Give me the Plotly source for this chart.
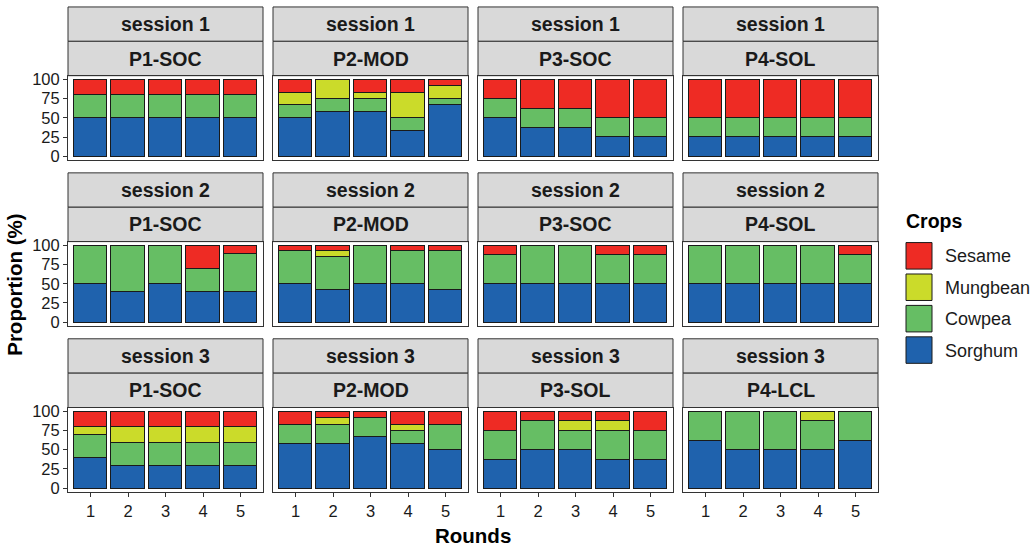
import plotly.graph_objects as go

# ---- data: crop shares (%) per round, four plots per session ----
rounds = [1, 2, 3, 4, 5]
sessions = ["session 1", "session 2", "session 3"]
plots_s1 = ["P1-SOC", "P2-MOD", "P3-SOC", "P4-SOL"]
plots_s2 = ["P1-SOC", "P2-MOD", "P3-SOC", "P4-SOL"]
plots_s3 = ["P1-SOC", "P2-MOD", "P3-SOL", "P4-LCL"]

# stacking order bottom -> top
crops = ["Sorghum", "Cowpea", "Mungbean", "Sesame"]
crop_colors = ["#1F62AD", "#66BE64", "#CBDB2A", "#EE2B24"]

sorghum_s1 = [[50, 50, 50, 50, 50], [50, 58.3, 58.3, 33.3, 66.7],
              [50, 37.5, 37.5, 25, 25], [25, 25, 25, 25, 25]]
cowpea_s1 = [[30, 30, 30, 30, 30], [16.7, 16.7, 16.7, 16.7, 8.3],
             [25, 25, 25, 25, 25], [25, 25, 25, 25, 25]]
mungbean_s1 = [[0, 0, 0, 0, 0], [16.6, 25, 8.3, 33.4, 16.7],
               [0, 0, 0, 0, 0], [0, 0, 0, 0, 0]]
sesame_s1 = [[20, 20, 20, 20, 20], [16.7, 0, 16.7, 16.6, 8.3],
             [25, 37.5, 37.5, 50, 50], [50, 50, 50, 50, 50]]

sorghum_s2 = [[50, 40, 50, 40, 40], [50, 42.9, 50, 50, 42.9],
              [50, 50, 50, 50, 50], [50, 50, 50, 50, 50]]
cowpea_s2 = [[50, 60, 50, 30, 50], [42.9, 42.8, 50, 42.9, 50],
             [37.5, 50, 50, 37.5, 37.5], [50, 50, 50, 50, 37.5]]
mungbean_s2 = [[0, 0, 0, 0, 0], [0, 7.2, 0, 0, 0],
               [0, 0, 0, 0, 0], [0, 0, 0, 0, 0]]
sesame_s2 = [[0, 0, 0, 30, 10], [7.1, 7.1, 0, 7.1, 7.1],
             [12.5, 0, 0, 12.5, 12.5], [0, 0, 0, 0, 12.5]]

sorghum_s3 = [[40, 30, 30, 30, 30], [58.3, 58.3, 66.7, 58.3, 50],
              [37.5, 50, 50, 37.5, 37.5], [62.5, 50, 50, 50, 62.5]]
cowpea_s3 = [[30, 30, 30, 30, 30], [25, 25, 25, 16.7, 33.3],
             [37.5, 37.5, 25, 37.5, 37.5], [37.5, 50, 50, 37.5, 37.5]]
mungbean_s3 = [[10, 20, 20, 20, 20], [0, 8.4, 0, 8.3, 0],
               [0, 0, 12.5, 12.5, 0], [0, 0, 0, 12.5, 0]]
sesame_s3 = [[20, 20, 20, 20, 20], [16.7, 8.3, 8.3, 16.7, 16.7],
             [25, 12.5, 12.5, 12.5, 25], [0, 0, 0, 0, 0]]

y_ticks = [0, 25, 50, 75, 100]

session_data = [
    [sorghum_s1, cowpea_s1, mungbean_s1, sesame_s1],
    [sorghum_s2, cowpea_s2, mungbean_s2, sesame_s2],
    [sorghum_s3, cowpea_s3, mungbean_s3, sesame_s3],
]
plot_labels = [plots_s1, plots_s2, plots_s3]

# ---- layout geometry (pixels) ----
W, H = 1033, 547
col_left = [68, 273, 478, 683]
col_w = 195
row_top = [72, 241, 410]
row_h = 86
strip_h = 35

FONT = "Liberation Sans, Arial, sans-serif"
TXT = "#1a1a1a"
BORDER = "#333333"


def px_x(x):
    return x / W


def px_y(y):
    return 1 - y / H


fig = go.Figure()
layout_axes = {}
shapes = []
annotations = []

for r in range(3):
    for c in range(4):
        k = r * 4 + c + 1
        xa = "x" if k == 1 else f"x{k}"
        ya = "y" if k == 1 else f"y{k}"
        for ci, crop in enumerate(crops):
            vals = session_data[r][ci][c]
            fig.add_trace(go.Bar(
                x=rounds,
                y=[v if v else None for v in vals],
                name=crop,
                marker=dict(color=crop_colors[ci],
                            line=dict(color="#1a1a1a", width=1)),
                width=0.9,
                xaxis=xa, yaxis=ya,
                showlegend=False,
            ))
        x0, x1 = col_left[c], col_left[c] + col_w
        y0, y1 = row_top[r], row_top[r] + row_h
        layout_axes["xaxis" if k == 1 else f"xaxis{k}"] = dict(
            domain=[px_x(x0), px_x(x1)],
            anchor=ya,
            range=[0.4, 5.6],
            tickvals=rounds if r == 2 else [],
            ticktext=[str(v) for v in rounds] if r == 2 else [],
            showticklabels=(r == 2),
            ticks="outside" if r == 2 else "",
            ticklen=4, tickcolor=BORDER, tickwidth=1,
            tickfont=dict(size=16.5, color=TXT, family=FONT),
            showline=True, linecolor=BORDER, linewidth=1, mirror=True,
            showgrid=False, zeroline=False, fixedrange=True,
        )
        layout_axes["yaxis" if k == 1 else f"yaxis{k}"] = dict(
            domain=[px_y(y1), px_y(y0)],
            anchor=xa,
            range=[-5, 105],
            tickvals=y_ticks if c == 0 else [],
            showticklabels=(c == 0),
            ticks="outside" if c == 0 else "",
            ticklen=4, tickcolor=BORDER, tickwidth=1,
            tickfont=dict(size=16.5, color=TXT, family=FONT),
            showline=True, linecolor=BORDER, linewidth=1, mirror=True,
            showgrid=False, zeroline=False, fixedrange=True,
        )
        # two facet strips above the panel: session, then plot
        for si, label in enumerate([sessions[r], plot_labels[r][c]]):
            sy1 = y0 - strip_h * (1 - si)
            sy0 = sy1 - strip_h
            shapes.append(dict(
                type="rect", xref="paper", yref="paper",
                x0=px_x(x0), x1=px_x(x1), y0=px_y(sy1), y1=px_y(sy0),
                fillcolor="#D9D9D9", line=dict(color=BORDER, width=1),
                layer="below",
            ))
            annotations.append(dict(
                x=px_x((x0 + x1) / 2), y=px_y((sy0 + sy1) / 2),
                xref="paper", yref="paper", text=f"<b>{label}</b>",
                showarrow=False, xanchor="center", yanchor="middle",
                font=dict(size=19.5, color=TXT, family=FONT),
            ))

# axis titles
annotations.append(dict(
    x=px_x(473), y=px_y(540), xref="paper", yref="paper",
    text="<b>Rounds</b>", showarrow=False, xanchor="center", yanchor="middle",
    font=dict(size=20.5, color="#000000", family=FONT),
))
annotations.append(dict(
    x=px_x(15), y=px_y(285), xref="paper", yref="paper",
    text="<b>Proportion (%)</b>", showarrow=False, textangle=-90,
    xanchor="center", yanchor="middle",
    font=dict(size=20.5, color="#000000", family=FONT),
))

# legend (top to bottom: reverse of stacking order)
annotations.append(dict(
    x=px_x(904), y=px_y(220), xref="paper", yref="paper",
    text="<b>Crops</b>", showarrow=False, xanchor="left", yanchor="middle",
    font=dict(size=19.5, color="#000000", family=FONT),
))
key_top = 241
key_step = 32
for i, ci in enumerate(reversed(range(len(crops)))):
    ky0 = key_top + i * key_step
    shapes.append(dict(
        type="rect", xref="paper", yref="paper",
        x0=px_x(906), x1=px_x(932), y0=px_y(ky0 + 28), y1=px_y(ky0 + 1),
        fillcolor=crop_colors[ci], line=dict(color="#1a1a1a", width=1),
    ))
    annotations.append(dict(
        x=px_x(943), y=px_y(ky0 + 15), xref="paper", yref="paper",
        text=crops[ci], showarrow=False, xanchor="left", yanchor="middle",
        font=dict(size=18, color=TXT, family=FONT),
    ))

fig.update_layout(
    width=W, height=H, autosize=False,
    margin=dict(l=0, r=0, t=0, b=0),
    paper_bgcolor="white", plot_bgcolor="white",
    barmode="stack", bargap=0,
    showlegend=False,
    shapes=shapes, annotations=annotations,
    font=dict(family=FONT),
    **layout_axes,
)

fig.write_html("out.html")
